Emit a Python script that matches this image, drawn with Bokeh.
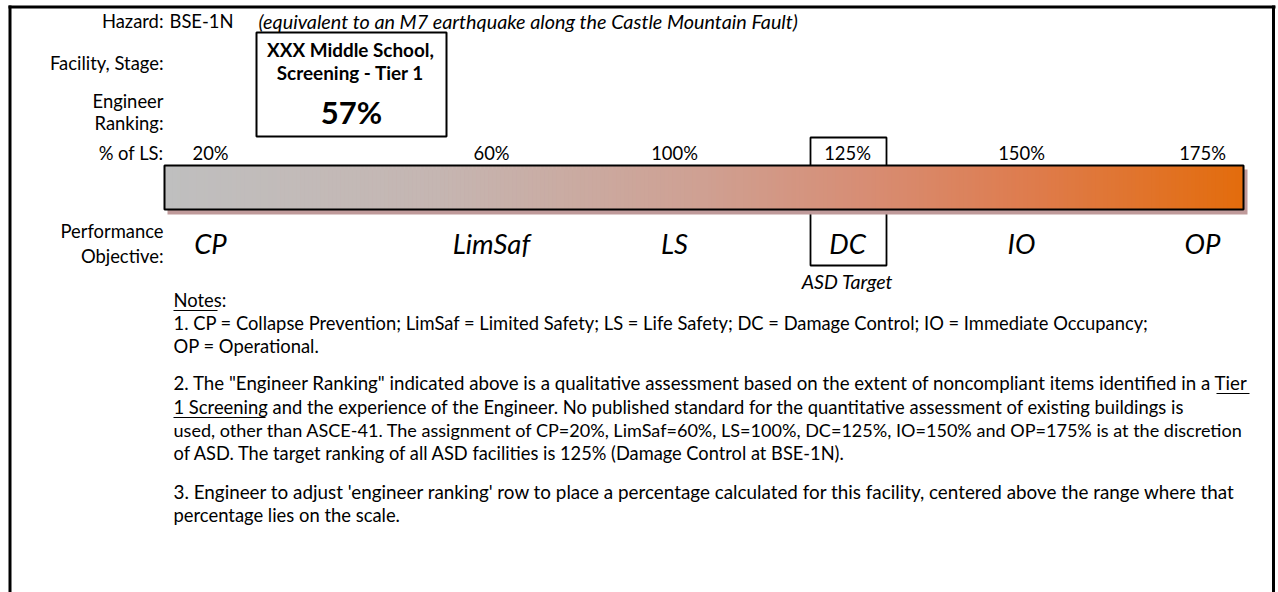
import numpy as np
from bokeh.plotting import figure
from bokeh.models import Range1d
from bokeh.core.properties import value
from bokeh.embed import file_html
from bokeh.resources import INLINE

# ---------------- data ----------------
hazard = "BSE-1N"
hazard_note = "(equivalent to an M7 earthquake along the Castle Mountain Fault)"
facility = "XXX Middle School,"
stage = "Screening - Tier 1"
engineer_ranking = "57%"
levels = ["CP", "LimSaf", "LS", "DC", "IO", "OP"]
pct_of_ls = [20, 60, 100, 125, 150, 175]
target_level = "DC"
target_label = "ASD Target"
row_labels = ["Hazard:", "Facility, Stage:", "Engineer", "Ranking:", "% of LS:", "Performance", "Objective:"]
notes_title = "Notes:"
note_lines = [
    "1. CP = Collapse Prevention; LimSaf = Limited Safety; LS = Life Safety; DC = Damage Control; IO = Immediate Occupancy;",
    "OP = Operational.",
    "2. The \"Engineer Ranking\" indicated above is a qualitative assessment based on the extent of noncompliant items identified in a Tier",
    "1 Screening and the experience of the Engineer.  No published standard for the quantitative assessment of existing buildings is",
    "used, other than ASCE-41.  The assignment of CP=20%, LimSaf=60%, LS=100%, DC=125%, IO=150% and OP=175% is at the discretion",
    "of ASD. The target ranking of all ASD facilities is 125% (Damage Control at BSE-1N).",
    "3. Engineer to adjust 'engineer ranking' row to place a percentage calculated for this facility, centered above the range where that",
    "percentage lies on the scale.",
]

# ---------------- layout (page pixel coordinates) ----------------
W, H = 1278, 592
FONT = value("Lato")
FS = "18.4px"
FS_IT = "19.6px"
col_x = [210, 491, 674, 847, 1021, 1202]          # spreadsheet column centres
row_y = [20, 62, 100, 122, 152, 230, 255]          # left label rows
label_right = 163
bar_l, bar_r, bar_t, bar_b = 164, 1243, 165, 209
note_x = 173
note_y = [322, 345, 382, 406, 429, 452, 491, 514]
note_fs = ["18.33px", "18.4px", "18.7px", "18.4px", "18.06px", "18.25px", "18.85px", "18.4px"]

p = figure(width=W, height=H, x_range=Range1d(0, W), y_range=Range1d(H, 0),
           output_backend="svg", toolbar_location=None, min_border=0,
           x_axis_type=None, y_axis_type=None, outline_line_color=None,
           background_fill_color="white", border_fill_color="white")
p.grid.visible = False

# outer frame
p.segment(x0=[9.5, 1273, 8], y0=[5, 5, 6.5], x1=[9.5, 1273, 1275], y1=[H, H, 6.5],
          line_color="black", line_width=3)

# left row labels
p.text(x=[label_right] * len(row_labels), y=row_y, text=row_labels, text_align="right",
       text_baseline="middle", text_font=FONT, text_font_size=FS, text_color="black")

# hazard row
p.text(x=[169], y=[20], text=[hazard], text_baseline="middle", text_font=FONT,
       text_font_size=FS, text_color="black")
p.text(x=[258], y=[20], text=[hazard_note], text_baseline="middle", text_font=FONT,
       text_font_size="19.8px", text_font_style="italic", text_color="black")

# facility box
p.quad(left=[256], right=[446], top=[32], bottom=[136], fill_color=None,
       line_color="black", line_width=2)
p.text(x=[350, 350], y=[49, 72], text=[facility, stage], text_align="center",
       text_baseline="middle", text_font=FONT, text_font_size="18.9px",
       text_font_style="bold", text_color="black")
p.text(x=[351], y=[111], text=[engineer_ranking], text_align="center",
       text_baseline="middle", text_font=FONT, text_font_size="31px",
       text_font_style="bold", text_color="black")

# target box (around 125% / DC)
ti = levels.index(target_level)
p.quad(left=[col_x[ti] - 37], right=[col_x[ti] + 39], top=[137], bottom=[265],
       fill_color=None, line_color="black", line_width=1.8)

# bar shadow
p.quad(left=[bar_l + 3], right=[bar_r + 4], top=[bar_t + 4], bottom=[bar_b + 5],
       fill_color="#bf9a9a", line_color=None)
# bar gradient
stops_t = [0.0, 0.25, 0.5, 0.65, 0.8, 1.0]
stops_c = np.array([[191, 191, 191], [197, 182, 178], [207, 160, 146],
                    [215, 141, 116], [222, 124, 78], [227, 108, 12]], dtype=float)
n = 270
edges = np.linspace(bar_l, bar_r, n + 1)
tc = (np.arange(n) + 0.5) / n
cols = []
for t in tc:
    rgb = [np.interp(t, stops_t, stops_c[:, k]) for k in range(3)]
    cols.append("#%02x%02x%02x" % tuple(int(round(v)) for v in rgb))
p.quad(left=edges[:-1], right=edges[1:] + 0.6, top=[bar_t] * n, bottom=[bar_b] * n,
       fill_color=cols, line_color=None)
p.quad(left=[bar_l], right=[bar_r], top=[bar_t], bottom=[bar_b], fill_color=None,
       line_color="black", line_width=2)

# percentage labels
p.text(x=col_x, y=[152] * len(levels), text=["%d%%" % v for v in pct_of_ls],
       text_align="center", text_baseline="middle", text_font=FONT,
       text_font_size=FS, text_color="black")

# performance objective labels
p.text(x=col_x, y=[243] * len(levels), text=levels, text_align="center",
       text_baseline="middle", text_font=FONT, text_font_size="27.5px",
       text_font_style="italic", text_color="black")
p.text(x=[col_x[ti]], y=[281], text=[target_label], text_align="center",
       text_baseline="middle", text_font=FONT, text_font_size=FS_IT,
       text_font_style="italic", text_color="black")

# notes
p.text(x=[note_x], y=[299], text=[notes_title], text_baseline="middle", text_font=FONT,
       text_font_size=FS, text_color="black")
p.text(x=[note_x] * len(note_lines), y=note_y, text=note_lines, text_baseline="middle",
       text_font=FONT, text_font_size=note_fs, text_color="black")
# underlines (Notes:, Tier, 1 Screening)
p.segment(x0=[note_x, 1216, note_x], y0=[310, 393, 417], x1=[note_x + 44, 1249, note_x + 92],
          y1=[310, 393, 417], line_color="black", line_width=1.2)

open("out.html", "w").write(file_html(p, INLINE))
